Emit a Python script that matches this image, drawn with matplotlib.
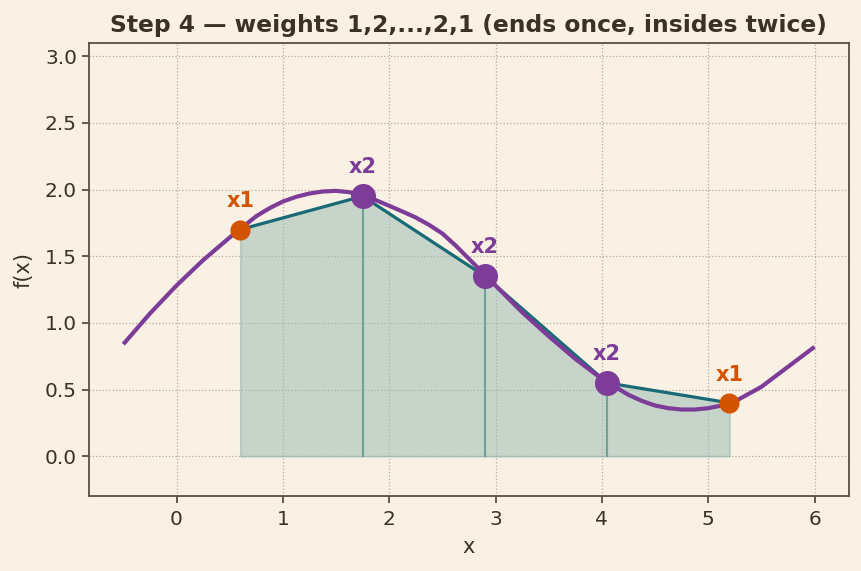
import numpy as np
import matplotlib.pyplot as plt

# smooth curve
curve_x = [-0.5, -0.25, 0.0, 0.25, 0.5, 0.75, 0.875, 1.0, 1.125, 1.25, 1.375, 1.5, 1.625,
           1.75, 1.875, 2.0, 2.125, 2.25, 2.375, 2.5, 2.625, 2.75, 3.0, 3.25, 3.5, 3.75,
           4.0, 4.25, 4.375, 4.5, 4.625, 4.75, 4.875, 5.0, 5.125, 5.25, 5.5, 5.75, 6.0]
curve_y = [0.84, 1.07, 1.28, 1.47, 1.64, 1.80, 1.86, 1.91, 1.945, 1.97, 1.985, 1.99, 1.98,
           1.955, 1.92, 1.878, 1.835, 1.79, 1.735, 1.67, 1.58, 1.48, 1.28, 1.08, 0.90, 0.73,
           0.58, 0.46, 0.415, 0.38, 0.36, 0.35, 0.35, 0.36, 0.38, 0.41, 0.52, 0.67, 0.82]

# sample nodes and trapezoid weights
node_x = [0.6, 1.75, 2.9, 4.05, 5.2]
node_y = [1.70, 1.95, 1.35, 0.55, 0.40]
weights = [1, 2, 2, 2, 1]

bg = '#f9f2e4'
purple = '#7d3c98'
teal = '#176a76'
orange = '#d35400'
ink = '#3b3226'

fig, ax = plt.subplots(figsize=(8.62, 5.71), dpi=100)
fig.patch.set_facecolor(bg)
ax.set_facecolor(bg)
fig.subplots_adjust(left=0.103, right=0.985, top=0.925, bottom=0.131)

ax.fill_between(node_x, node_y, 0, color='#9dbcb3', alpha=0.55,
                edgecolor='#8fb3aa', linewidth=1.2, zorder=1)
for xv, yv in zip(node_x[1:-1], node_y[1:-1]):
    ax.plot([xv, xv], [0, yv], color='#6fa39a', lw=1.5, zorder=2)

ax.plot(node_x, node_y, color=teal, lw=2.3, zorder=3)
ax.plot(curve_x, curve_y, color=purple, lw=3, zorder=4, solid_capstyle='butt',
        solid_joinstyle='round')

for xv, yv, w in zip(node_x, node_y, weights):
    if w == 1:
        c, ms, off = orange, 13.5, 13
    else:
        c, ms, off = purple, 17, 13.5
    ax.plot(xv, yv, 'o', color=c, ms=ms, zorder=5)
    ax.annotate('x%d' % w, (xv, yv), xytext=(0, off),
                textcoords='offset points', ha='center', va='bottom',
                color=c, fontsize=15, fontweight='bold', zorder=6)

ax.set_xlim(-0.825, 6.325)
ax.set_ylim(-0.3, 3.1)
ax.set_xticks(range(0, 7))
ax.set_yticks(np.arange(0, 3.01, 0.5))
ax.grid(True, linestyle=':', color='#b5ada0', lw=0.9)
ax.set_axisbelow(True)

for s in ax.spines.values():
    s.set_color('#5a4f40')
    s.set_linewidth(1.3)
ax.tick_params(colors='#5a4f40', labelcolor=ink, labelsize=14.5, length=5, width=1.3)
ax.tick_params(axis='x', pad=5)

ax.set_xlabel('x', fontsize=15, color=ink, labelpad=6)
ax.set_ylabel('f(x)', fontsize=15, color=ink, labelpad=8)
ax.set_title('Step 4 — weights 1,2,...,2,1 (ends once, insides twice)',
             fontsize=16.8, fontweight='bold', color=ink, pad=8)

plt.savefig('out.png', dpi=100, facecolor=bg)
